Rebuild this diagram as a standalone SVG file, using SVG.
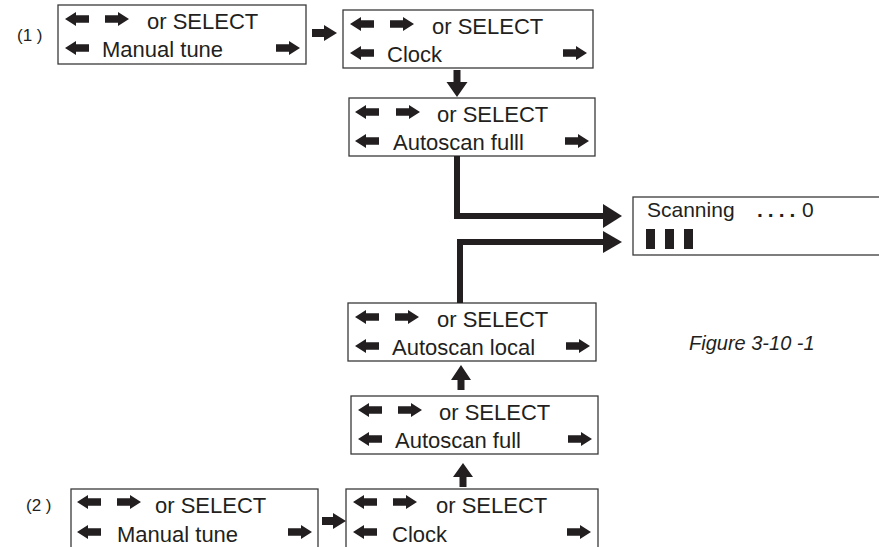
<svg xmlns="http://www.w3.org/2000/svg" xmlns:xlink="http://www.w3.org/1999/xlink" width="879" height="547" viewBox="0 0 879 547">
<style>
.box{fill:#fff;stroke:#3a3a3a;stroke-width:1.3}
.t{font-family:"Liberation Sans",Arial,sans-serif;font-size:22px;fill:#231f20}
.lbl{font-family:"Liberation Sans",Arial,sans-serif;font-size:17px;fill:#231f20}
.fig{font-family:"Liberation Sans",Arial,sans-serif;font-size:20px;font-style:italic;fill:#231f20}
.g{fill:#231f20}
.ln{fill:none;stroke:#231f20;stroke-width:6}
</style>
<defs>
<path id="la" d="M0,7 L11,0 L11,3.2 L24,3.2 L24,10.8 L11,10.8 L11,14 Z"/>
<path id="ra" d="M24,7 L13,0 L13,3.2 L0,3.2 L0,10.8 L13,10.8 L13,14 Z"/>
</defs>
<rect width="879" height="547" fill="#fff"/>

<text class="lbl" x="17" y="41">(1 )</text>
<text class="lbl" x="26" y="511">(2 )</text>

<g id="box1" transform="translate(58,5)">
<rect class="box" x="0" y="0" width="248" height="59"/>
<use class="g" href="#la" x="7" y="7"/><use class="g" href="#ra" x="47" y="7"/>
<text class="t" x="89" y="24">or SELECT</text>
<use class="g" href="#la" x="7" y="36"/>
<text class="t" x="44" y="52">Manual tune</text>
<use class="g" href="#ra" x="218" y="36"/>
</g>

<g id="box2" transform="translate(343,10)">
<rect class="box" x="0" y="0" width="250" height="58"/>
<use class="g" href="#la" x="7" y="7"/><use class="g" href="#ra" x="47" y="7"/>
<text class="t" x="89" y="24">or SELECT</text>
<use class="g" href="#la" x="7" y="36"/>
<text class="t" x="44" y="52">Clock</text>
<use class="g" href="#ra" x="220" y="36"/>
</g>

<g id="box3" transform="translate(349,98)">
<rect class="box" x="0" y="0" width="246" height="58"/>
<use class="g" href="#la" x="6" y="7"/><use class="g" href="#ra" x="47" y="7"/>
<text class="t" x="88" y="24">or SELECT</text>
<use class="g" href="#la" x="6" y="36"/>
<text class="t" x="44" y="52">Autoscan fulll</text>
<use class="g" href="#ra" x="216" y="36"/>
</g>

<g id="scan" transform="translate(633,197)">
<rect class="box" x="0" y="0" width="260" height="58"/>
<text class="t" x="14" y="20" style="font-size:21px">Scanning <tspan x="124" font-weight="bold" letter-spacing="5">....</tspan> <tspan x="169">0</tspan></text>
<rect class="g" x="13" y="32" width="9" height="20"/>
<rect class="g" x="32" y="32" width="9" height="20"/>
<rect class="g" x="51" y="32" width="9" height="20"/>
</g>

<g id="box5" transform="translate(348,303)">
<rect class="box" x="0" y="0" width="248" height="58"/>
<use class="g" href="#la" x="7" y="7"/><use class="g" href="#ra" x="47" y="7"/>
<text class="t" x="89" y="24">or SELECT</text>
<use class="g" href="#la" x="7" y="36"/>
<text class="t" x="44" y="52">Autoscan local</text>
<use class="g" href="#ra" x="218" y="36"/>
</g>

<g id="box6" transform="translate(351,396)">
<rect class="box" x="0" y="0" width="247" height="58"/>
<use class="g" href="#la" x="7" y="7"/><use class="g" href="#ra" x="47" y="7"/>
<text class="t" x="88" y="24">or SELECT</text>
<use class="g" href="#la" x="7" y="36"/>
<text class="t" x="44" y="52">Autoscan full</text>
<use class="g" href="#ra" x="217" y="36"/>
</g>

<g id="box7" transform="translate(71,489)">
<rect class="box" x="0" y="0" width="247" height="70"/>
<use class="g" href="#la" x="6" y="6"/><use class="g" href="#ra" x="46" y="6"/>
<text class="t" x="84" y="24">or SELECT</text>
<use class="g" href="#la" x="6" y="36"/>
<text class="t" x="46" y="53">Manual tune</text>
<use class="g" href="#ra" x="217" y="36"/>
</g>

<g id="box8" transform="translate(346,489)">
<rect class="box" x="0" y="0" width="252" height="70"/>
<use class="g" href="#la" x="7" y="6"/><use class="g" href="#ra" x="47" y="6"/>
<text class="t" x="90" y="24">or SELECT</text>
<use class="g" href="#la" x="7" y="36"/>
<text class="t" x="46" y="53">Clock</text>
<use class="g" href="#ra" x="221" y="36"/>
</g>

<text class="fig" x="689" y="350">Figure 3-10 -1</text>

<g id="connectors">
<path class="g" d="M312,29 L324,29 L324,25 L337,33 L324,41 L324,37 L312,37 Z"/>
<path class="g" d="M453.5,70 L460.5,70 L460.5,82 L467.5,82 L457,97 L446.5,82 L453.5,82 Z"/>
<polyline class="ln" points="457,156 457,216 605,216"/>
<polygon class="g" points="603,204 622,216 603,228"/>
<polyline class="ln" points="460,303 460,242 605,242"/>
<polygon class="g" points="603,231 622,242 603,253"/>
<path class="g" d="M457.5,390 L464.5,390 L464.5,380 L471,380 L461,365 L451,380 L457.5,380 Z"/>
<path class="g" d="M459.5,487 L466.5,487 L466.5,477 L473,477 L463,463 L453,477 L459.5,477 Z"/>
<path class="g" d="M322,517 L333,517 L333,513 L346,521 L333,529 L333,525 L322,525 Z"/>
</g>
</svg>
